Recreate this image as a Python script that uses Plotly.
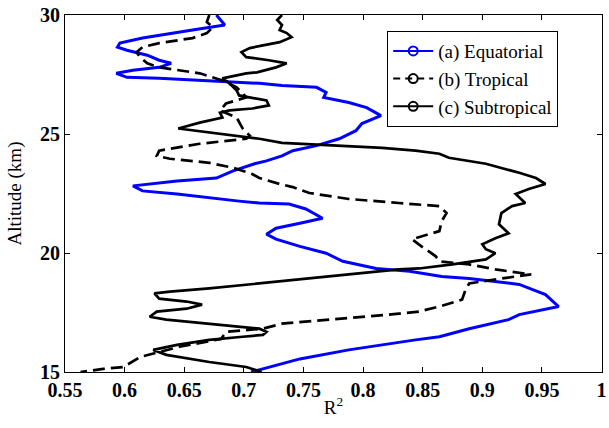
import plotly.graph_objects as go

# Equatorial (a)
eq_alt = [30.0, 29.70, 29.58, 29.37, 29.03, 28.82, 28.65, 28.52, 28.31, 28.10, 27.97, 27.80, 27.68, 27.55,
          27.38, 27.34, 27.25, 27.17, 27.13, 27.04, 26.96, 26.75, 26.54, 26.32, 26.11, 25.77, 25.44, 25.14,
          24.80, 24.51, 24.30, 24.08, 23.87, 23.75, 23.45, 23.15, 23.03, 22.82, 22.61, 22.48, 22.31, 22.18,
          22.10, 22.06, 21.85, 21.46, 21.25, 21.04, 20.79, 20.58, 20.28, 19.99, 19.65, 19.35, 19.23, 19.01,
          18.93, 18.68, 18.25, 17.75, 17.41, 17.20, 16.82, 16.48, 16.35, 15.93, 15.55, 15.21, 15.0]
eq_r2 = [0.677, 0.682, 0.684, 0.657, 0.615, 0.596, 0.594, 0.602, 0.619, 0.629, 0.639, 0.629, 0.607, 0.593,
         0.602, 0.629, 0.663, 0.691, 0.713, 0.732, 0.761, 0.769, 0.767, 0.788, 0.803, 0.815, 0.799, 0.794,
         0.780, 0.761, 0.741, 0.732, 0.719, 0.709, 0.691, 0.677, 0.644, 0.607, 0.615, 0.644, 0.671, 0.696,
         0.713, 0.738, 0.752, 0.766, 0.747, 0.727, 0.719, 0.727, 0.747, 0.769, 0.783, 0.811, 0.839, 0.866,
         0.889, 0.931, 0.953, 0.964, 0.931, 0.922, 0.889, 0.864, 0.844, 0.788, 0.747, 0.721, 0.706]

# Tropical (b)
tr_alt = [30.0, 29.70, 29.49, 29.24, 29.03, 28.82, 28.65, 28.44, 28.23, 27.97, 27.80, 27.68, 27.55, 27.25,
          26.96, 26.70, 26.54, 26.28, 25.99, 25.69, 25.23, 24.93, 24.80, 24.59, 24.30, 24.08, 23.96, 23.79,
          23.58, 23.32, 23.15, 22.90, 22.77, 22.52, 22.27, 22.10, 21.97, 21.68, 21.34, 20.92, 20.58, 20.28,
          19.86, 19.65, 19.52, 19.31, 19.10, 18.93, 18.72, 18.46, 18.04, 17.75, 17.54, 17.45, 17.20, 17.03,
          16.82, 16.69, 16.39, 16.06, 15.63, 15.21, 15.13, 15.0]
tr_r2 = [0.671, 0.669, 0.674, 0.669, 0.657, 0.629, 0.615, 0.610, 0.613, 0.619, 0.629, 0.644, 0.663, 0.682,
         0.694, 0.699, 0.702, 0.685, 0.680, 0.694, 0.699, 0.705, 0.702, 0.663, 0.629, 0.627, 0.638, 0.671,
         0.691, 0.707, 0.713, 0.730, 0.741, 0.755, 0.788, 0.830, 0.864, 0.870, 0.866, 0.864, 0.841, 0.849,
         0.861, 0.864, 0.889, 0.911, 0.941, 0.916, 0.889, 0.886, 0.883, 0.864, 0.847, 0.830, 0.774, 0.732,
         0.716, 0.685, 0.681, 0.646, 0.613, 0.599, 0.582, 0.563]

# Subtropical (c)
st_alt = [30.0, 29.79, 29.58, 29.37, 29.24, 29.07, 28.86, 28.73, 28.61, 28.44, 28.23, 28.10, 27.97, 27.80,
          27.59, 27.55, 27.34, 27.13, 26.83, 26.62, 26.54, 26.41, 26.20, 26.07, 25.99, 25.90, 25.69, 25.48,
          25.23, 25.06, 24.80, 24.63, 24.51, 24.42, 24.30, 24.17, 24.00, 23.75, 23.37, 23.15, 22.90, 22.69,
          22.48, 22.10, 21.97, 21.68, 21.21, 20.83, 20.62, 20.37, 20.16, 19.99, 19.73, 19.52, 19.35, 19.31,
          19.10, 18.89, 18.68, 18.51, 18.38, 18.30, 18.08, 17.96, 17.83, 17.66, 17.54, 17.32, 17.20, 17.03,
          16.90, 16.82, 16.69, 16.56, 16.48, 16.35, 16.14, 15.93, 15.72, 15.42, 15.21, 15.0]
st_r2 = [0.732, 0.728, 0.732, 0.730, 0.736, 0.740, 0.730, 0.716, 0.705, 0.698, 0.702, 0.721, 0.736, 0.727,
         0.711, 0.702, 0.682, 0.688, 0.694, 0.696, 0.705, 0.719, 0.721, 0.707, 0.688, 0.680, 0.682, 0.663,
         0.645, 0.671, 0.713, 0.732, 0.774, 0.816, 0.844, 0.864, 0.872, 0.903, 0.931, 0.945, 0.953, 0.939,
         0.928, 0.936, 0.925, 0.916, 0.914, 0.922, 0.911, 0.900, 0.903, 0.911, 0.903, 0.875, 0.847, 0.830,
         0.788, 0.747, 0.709, 0.671, 0.638, 0.625, 0.629, 0.652, 0.665, 0.652, 0.627, 0.621, 0.635, 0.671,
         0.702, 0.713, 0.719, 0.716, 0.699, 0.671, 0.644, 0.624, 0.635, 0.671, 0.702, 0.715]

x_ticks = [0.55, 0.6, 0.65, 0.7, 0.75, 0.8, 0.85, 0.9, 0.95, 1.0]
x_tick_text = ["0.55", "0.6", "0.65", "0.7", "0.75", "0.8", "0.85", "0.9", "0.95", "1"]
y_ticks = [15, 20, 25, 30]

names = ["(a) Equatorial", "(b) Tropical", "(c) Subtropical"]
colors = ["#0000ff", "#000000", "#000000"]
dashes = ["solid", "12px,6px", "solid"]
widths = [3, 2.7, 2.7]

fig = go.Figure()
for xs, ys, c, d, w in zip([eq_r2, tr_r2, st_r2], [eq_alt, tr_alt, st_alt], colors, dashes, widths):
    fig.add_trace(go.Scatter(x=xs, y=ys, mode="lines", showlegend=False,
                             line=dict(color=c, width=w, dash=d)))
for n, c, d in zip(names, colors, dashes):
    fig.add_trace(go.Scatter(x=[None], y=[None], mode="lines+markers", name=n,
                             line=dict(color=c, width=2, dash="solid" if d == "solid" else "7px,5px"),
                             marker=dict(symbol="circle-open", size=9, color=c, line=dict(width=2))))

serif = "Liberation Serif, Times New Roman, serif"
axis_common = dict(showline=True, linecolor="black", linewidth=1, mirror="allticks",
                   ticks="inside", ticklen=5, tickcolor="black", showgrid=False, zeroline=False,
                   ticklabeloverflow="allow",
                   tickfont=dict(family=serif, size=20, color="black", weight="bold"))
fig.update_layout(
    width=609, height=428,
    margin=dict(l=65, r=2, t=15, b=56),
    paper_bgcolor="white", plot_bgcolor="white",
    xaxis=dict(range=[0.55, 1.0004], tickvals=x_ticks, ticktext=x_tick_text,
               title=dict(text="R<sup>2</sup>", font=dict(family=serif, size=19, color="black"), standoff=0),
               **axis_common),
    yaxis=dict(range=[15, 30], tickvals=y_ticks,
               title=dict(text="Altitude (km)", font=dict(family=serif, size=19, color="black"), standoff=13),
               **axis_common),
    legend=dict(x=0.6, y=0.955, xanchor="left", yanchor="top", bgcolor="white",
                bordercolor="black", borderwidth=1, itemwidth=40, tracegroupgap=0,
                font=dict(family=serif, size=19, color="black")),
)
fig.write_html("out.html", config={"displayModeBar": False},
               post_script="document.body.style.margin='0';document.body.style.padding='0';")
